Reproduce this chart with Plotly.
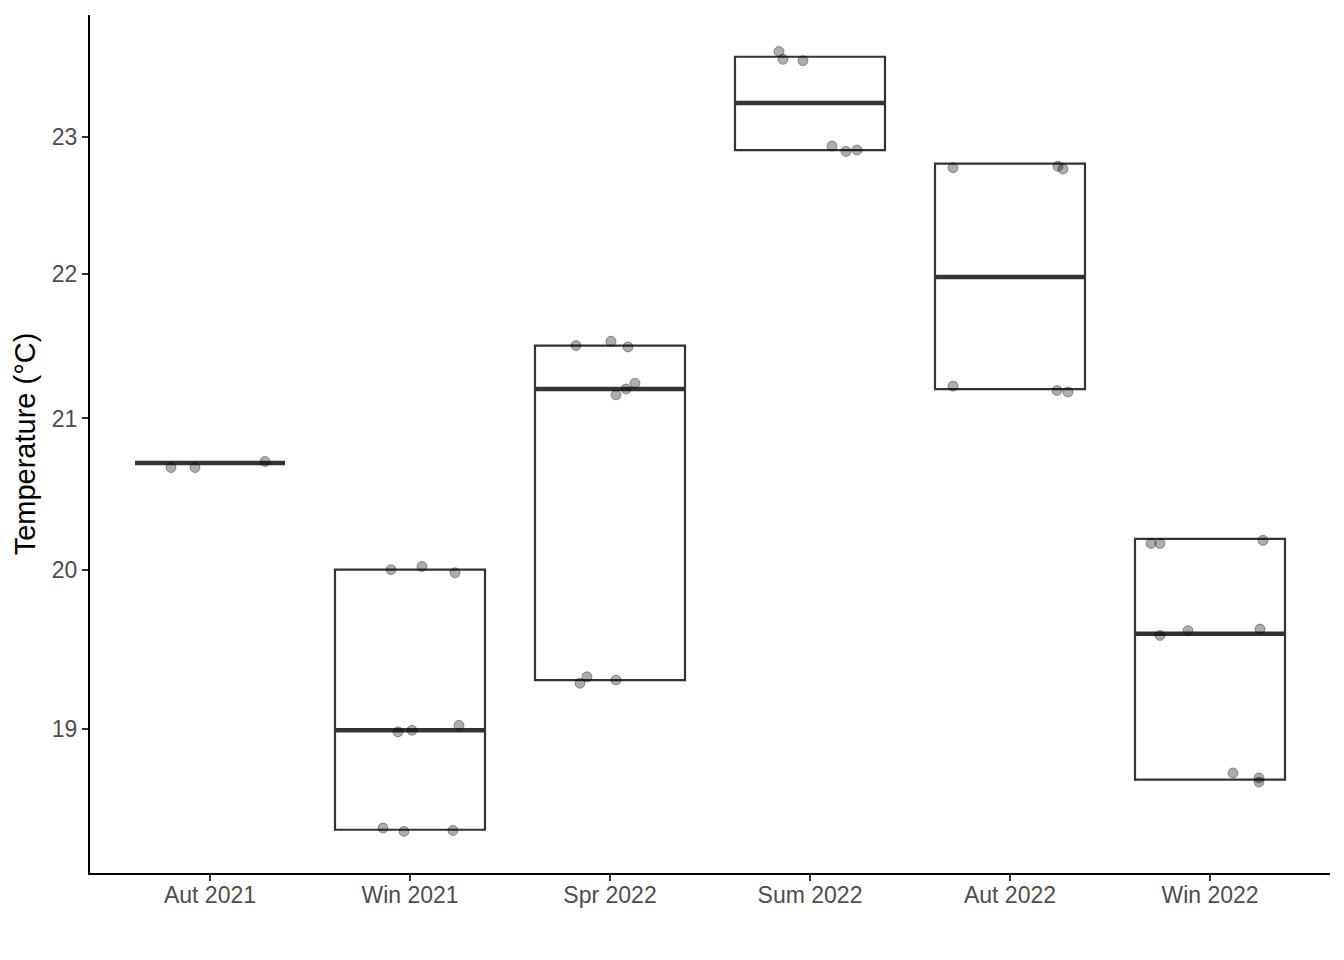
import plotly.graph_objects as go
import numpy as np

# ---- data ----
seasons = ["Aut 2021", "Win 2021", "Spr 2022", "Sum 2022", "Aut 2022", "Win 2022"]

box_q1 = [20.70, 18.39, 19.30, 22.90, 21.20, 18.69]
box_median = [20.70, 18.99, 21.20, 23.25, 21.98, 19.59]
box_q3 = [20.70, 20.00, 21.50, 23.60, 22.80, 20.20]

aut21_temp = [20.67, 20.67, 20.71]
aut21_jitter = [-0.195, -0.075, 0.275]
win21_temp = [20.00, 20.02, 19.98, 18.98, 18.99, 19.02, 18.40, 18.38, 18.385]
win21_jitter = [-0.095, 0.06, 0.225, -0.06, 0.01, 0.245, -0.135, -0.03, 0.215]
spr22_temp = [21.50, 21.53, 21.49, 21.24, 21.20, 21.16, 19.32, 19.28, 19.30]
spr22_jitter = [-0.17, 0.005, 0.09, 0.125, 0.08, 0.03, -0.115, -0.15, 0.03]
sum22_temp = [23.64, 23.58, 23.57, 22.93, 22.89, 22.90]
sum22_jitter = [-0.155, -0.135, -0.035, 0.11, 0.18, 0.235]
aut22_temp = [22.77, 22.78, 22.76, 21.22, 21.19, 21.18]
aut22_jitter = [-0.285, 0.24, 0.265, -0.285, 0.235, 0.29]
win22_temp = [20.17, 20.17, 20.19, 19.58, 19.61, 19.62, 18.73, 18.70, 18.675]
win22_jitter = [-0.295, -0.25, 0.265, -0.25, -0.11, 0.25, 0.115, 0.245, 0.245]

y_ticks = [19, 20, 21, 22, 23]

# ---- build figure ----
group_temps = [aut21_temp, win21_temp, spr22_temp, sum22_temp, aut22_temp, win22_temp]
group_jitter = [aut21_jitter, win21_jitter, spr22_jitter, sum22_jitter, aut22_jitter, win22_jitter]
pos = list(range(len(seasons)))
BOX_W = 0.75
INK = "#333333"

fig = go.Figure()

fig.add_trace(go.Box(
    x=pos, q1=box_q1, median=box_median, q3=box_q3,
    lowerfence=box_q1, upperfence=box_q3,
    width=BOX_W, boxpoints=False, whiskerwidth=0,
    fillcolor="white", line=dict(color=INK, width=2.2),
    showlegend=False, hoverinfo="skip",
))

# thicker median lines (ggplot style)
mx, my = [], []
for p, m in zip(pos, box_median):
    mx += [p - BOX_W / 2, p + BOX_W / 2, None]
    my += [m, m, None]
fig.add_trace(go.Scatter(x=mx, y=my, mode="lines",
                         line=dict(color=INK, width=4.5),
                         showlegend=False, hoverinfo="skip"))

# jittered points
px, py = [], []
for p, temps, jit in zip(pos, group_temps, group_jitter):
    px += [p + j for j in jit]
    py += temps
fig.add_trace(go.Scatter(
    x=px, y=py, mode="markers",
    marker=dict(size=10, color="rgba(0,0,0,0.32)",
                line=dict(color="rgba(0,0,0,0.35)", width=1)),
    showlegend=False,
))

font_family = "Liberation Sans, Arial, Helvetica, sans-serif"
fig.update_layout(
    width=1344, height=960,
    margin=dict(l=90, r=14, t=15, b=87),
    paper_bgcolor="white", plot_bgcolor="white",
    font=dict(family=font_family, color="#4d4d4d", size=23),
    showlegend=False,
)
fig.update_xaxes(
    type="linear", range=[-0.6, 5.6],
    tickmode="array", tickvals=pos, ticktext=seasons,
    showgrid=False, zeroline=False,
    showline=True, linecolor="black", linewidth=2,
    ticks="outside", ticklen=6, tickwidth=2, tickcolor=INK,
    ticklabelstandoff=-6,
    tickfont=dict(size=23, color="#4d4d4d"),
)
fig.update_yaxes(
    type="log", range=[np.log10(18.135), np.log10(23.92)],
    tickmode="array", tickvals=y_ticks, ticktext=[str(t) for t in y_ticks],
    showgrid=False, zeroline=False,
    showline=True, linecolor="black", linewidth=2,
    ticks="outside", ticklen=6, tickwidth=2, tickcolor=INK,
    tickfont=dict(size=23, color="#4d4d4d"),
    title=dict(text="Temperature (°C)", standoff=8,
               font=dict(size=29, color="black")),
)

fig.write_html("out.html")
